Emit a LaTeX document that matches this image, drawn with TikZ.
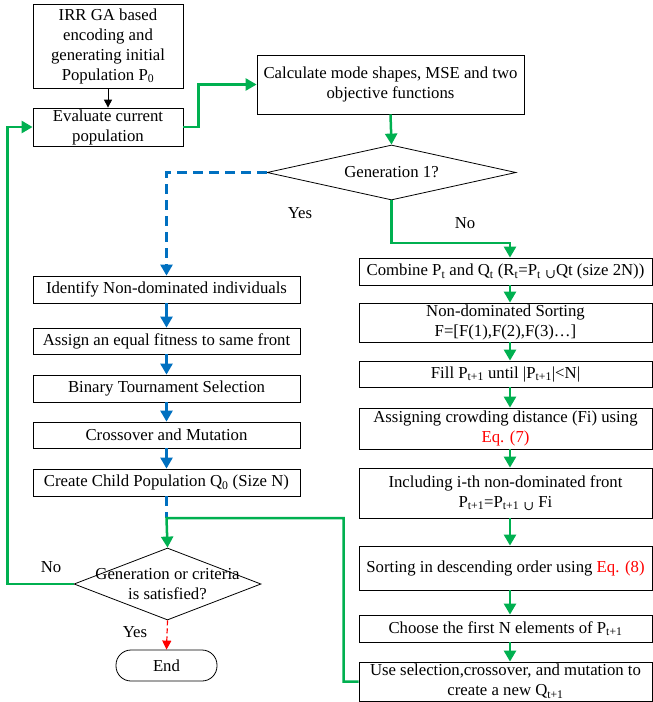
\documentclass[tikz,border=0pt]{standalone}
\usepackage{fontspec}
\setmainfont{Liberation Serif}
\newfontfamily\symfont{DejaVu Serif}
\usetikzlibrary{shapes.geometric,arrows.meta}
\definecolor{fgreen}{RGB}{0,176,80}
\definecolor{fblue}{RGB}{0,112,192}
\definecolor{fred}{RGB}{255,0,0}
\newcommand\sbs[1]{\textsubscript{#1}}
\newcommand\uni{\raisebox{-3pt}{\symfont\fontsize{13}{13}\selectfont ∪}}
\begin{document}
\begin{tikzpicture}[x=1pt,y=-1pt,
  every node/.style={font=\fontsize{16.75}{20}\selectfont},
  box/.style={draw, line width=0.8pt, rectangle, inner sep=0pt, align=center},
  dia/.style={draw, line width=0.8pt, diamond, inner sep=0pt},
  endbox/.style={draw, line width=0.8pt, rectangle, rounded corners=15pt, inner sep=0pt},
  lbl/.style={inner sep=0pt},
  garrow/.style={draw=fgreen, line width=2.5pt, -{Triangle[width=12pt,length=11pt]}},
  gline/.style={draw=fgreen, line width=2.5pt},
  barrow/.style={draw=fblue, line width=2.5pt, -{Triangle[width=12pt,length=11pt]}},
  bdash/.style={draw=fblue, line width=2.5pt, dash pattern=on 10pt off 6pt},
  karrow/.style={draw=black, line width=1pt, -{Triangle[width=8pt,length=8pt]}},
  rdash/.style={draw=fred, line width=1.2pt, dash pattern=on 5pt off 3pt, -{Triangle[width=9pt,length=9pt]}}
]
\fill[white] (0,0) rectangle (653,702);
\useasboundingbox (0,0) rectangle (653,702);

% left column
\node[box, minimum width=150pt, minimum height=84pt] (init) at (108,46)
  {IRR GA based\\encoding and\\generating initial\\Population P\sbs{0}};
\node[box, minimum width=150pt, minimum height=38pt] (eval) at (108,127)
  {Evaluate current\\population};
\node[box, minimum width=267pt, minimum height=59pt] (calc) at (390.5,84.5)
  {Calculate mode shapes, MSE and two\\objective functions};
\node[dia, minimum width=249pt, minimum height=55pt] (gen1) at (391.5,172.5) {};
\node[lbl] (gen1t) at (gen1.center) {Generation 1?};

\node[box, minimum width=267pt, minimum height=27pt] (ident) at (166.5,289.5) {Identify Non-dominated individuals};
\node[box, minimum width=267pt, minimum height=26pt] (assign) at (166.5,341) {Assign an equal fitness to same front};
\node[box, minimum width=267pt, minimum height=27pt] (binary) at (166.5,388.5) {Binary Tournament Selection};
\node[box, minimum width=267pt, minimum height=26pt] (cross) at (166.5,435) {Crossover and Mutation};
\node[box, minimum width=267pt, minimum height=27pt] (create) at (166.5,482.5) {Create Child Population Q\sbs{0} (Size N)};

\node[dia, minimum width=187pt, minimum height=72pt] (gen2) at (167.5,584) {};
\node[lbl, align=center] (gen2t) at (167.5,584) {Generation or criteria\\is satisfied?};
\node[endbox, minimum width=101pt, minimum height=31pt] (end) at (166.5,665.5) {End};

% right column
\node[box, minimum width=293pt, minimum height=27pt] (comb) at (505.5,271.5)
  {Combine P\sbs{t} and Q\sbs{t} (R\sbs{t}=P\sbs{t} \uni Qt (size 2N))};
\node[box, minimum width=293pt, minimum height=39pt] (nds) at (505.5,322.5)
  {Non-dominated Sorting\\F=[F(1),F(2),F(3)…]};
\node[box, minimum width=293pt, minimum height=26pt] (fill) at (505.5,374)
  {Fill P\sbs{t+1} until |P\sbs{t+1}|<N|};
\node[box, minimum width=293pt, minimum height=41pt] (crowd) at (505.5,428.5)
  {Assigning crowding distance (Fi) using\\\textcolor{fred}{Eq. (7)}};
\node[box, minimum width=293pt, minimum height=50pt] (incl) at (505.5,493)
  {Including i-th non-dominated front\\P\sbs{t+1}=P\sbs{t+1} \uni{} Fi};
\node[box, minimum width=293pt, minimum height=44pt] (sort) at (505.5,568)
  {Sorting in descending order using \textcolor{fred}{Eq. (8)}};
\node[box, minimum width=293pt, minimum height=27pt] (choose) at (505.5,628.5)
  {Choose the first N elements of P\sbs{t+1}};
\node[box, minimum width=293pt, minimum height=39pt] (usesel) at (505.5,681.5)
  {Use selection,crossover, and mutation to\\create a new Q\sbs{t+1}};

% labels
\node[lbl] (yes1) at (300,213) {Yes};
\node[lbl] (no1) at (465,223) {No};
\node[lbl] (no2) at (51,567) {No};
\node[lbl] (yes2) at (135,632) {Yes};

\coordinate (g1) at (391.5,243);
\coordinate (j) at (166.5,518);

% connectors
\draw[karrow] (init.south) -- (eval.north);
\draw[garrow] (eval.east) -- ++(15,0) |- (calc.west);
\draw[garrow] (calc.south) -- (gen1.north);
\draw[bdash, -{Triangle[width=12pt,length=11pt]}] (gen1.west) -| (ident.north);
\draw[garrow] (gen1.south) -- (g1) -| ([xshift=4.5pt]comb.north);

\draw[barrow] (ident.south) -- (assign.north);
\draw[barrow] (assign.south) -- (binary.north);
\draw[barrow] (binary.south) -- (cross.north);
\draw[barrow] (cross.south) -- (create.north);
\draw[bdash] (create.south) -- (j);

\draw[garrow] (usesel.west) -- ++(-15,0) |- (j) -- (gen2.north);
\draw[garrow] (gen2.west) -- ++(-66,0) |- (eval.west);
\draw[rdash] (gen2.south) -- (end.north);

\draw[garrow] ([xshift=4.5pt]comb.south) -- ([xshift=4.5pt]nds.north);
\draw[garrow] ([xshift=4.5pt]nds.south) -- ([xshift=4.5pt]fill.north);
\draw[garrow] ([xshift=4.5pt]fill.south) -- ([xshift=4.5pt]crowd.north);
\draw[garrow] ([xshift=4.5pt]crowd.south) -- ([xshift=4.5pt]incl.north);
\draw[garrow] ([xshift=4.5pt]incl.south) -- ([xshift=4.5pt]sort.north);
\draw[garrow] ([xshift=4.5pt]sort.south) -- ([xshift=4.5pt]choose.north);
\draw[garrow] ([xshift=4.5pt]choose.south) -- ([xshift=4.5pt]usesel.north);
\end{tikzpicture}
\end{document}
